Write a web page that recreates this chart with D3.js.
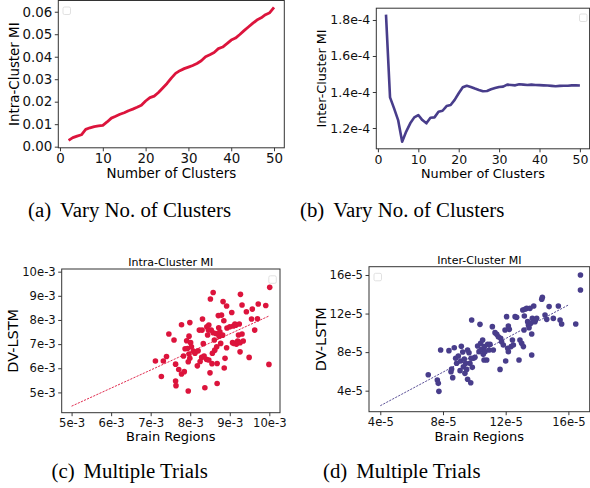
<!DOCTYPE html>
<html>
<head>
<meta charset="utf-8">
<script src="https://cdn.jsdelivr.net/npm/d3@7"></script>
<style>
  body { margin: 0; background: #fff; }
  text { font-family: "DejaVu Sans", sans-serif; }
  .cap { font-family: "Liberation Serif", "Times New Roman", serif; }
</style>
</head>
<body>
<div id="fig"></div>
<script>
// (a) / (b): varying number of clusters
const nClusters = [2,3,4,5,6,7,8,9,10,11,12,13,14,15,16,17,18,19,20,21,22,23,24,25,26,
  27,28,29,30,31,32,33,34,35,36,37,38,39,40,41,42,43,44,45,46,47,48,49,50];
const intraMI = [0.0028,0.0040,0.0047,0.0053,0.0077,0.0084,0.0089,0.0092,0.0095,0.0110,
  0.0127,0.0135,0.0144,0.0151,0.0160,0.0167,0.0175,0.0184,0.0203,0.0218,0.0225,0.0241,
  0.0261,0.0281,0.0305,0.0326,0.0338,0.0347,0.0354,0.0361,0.0370,0.0382,0.0400,0.0409,
  0.0419,0.0436,0.0443,0.0458,0.0474,0.0483,0.0499,0.0516,0.0532,0.0548,0.0563,0.0573,
  0.0587,0.0596,0.0619];
// inter-cluster MI in units of 1e-4
const interMI = [1.83,1.37,1.309,1.244,1.124,1.18,1.226,1.259,1.272,1.244,1.226,1.257,
  1.259,1.29,1.296,1.322,1.328,1.356,1.393,1.426,1.435,1.428,1.419,1.411,1.404,1.406,
  1.415,1.422,1.428,1.43,1.441,1.439,1.437,1.443,1.441,1.439,1.441,1.439,1.438,1.437,
  1.436,1.434,1.432,1.434,1.435,1.435,1.437,1.437,1.436];

// (c) intra-cluster trials, [brain regions, DV-LSTM] in units of 1e-3
const trialsC = [[7.12,6.30],[7.27,5.66],[7.32,6.30],[7.40,6.49],[7.46,7.42],[7.59,7.17],
  [7.63,6.17],[7.63,5.47],[7.64,5.28],[7.71,5.95],[7.78,7.80],[7.78,5.76],[7.83,6.51],
  [7.85,5.86],[7.91,7.14],[7.87,6.81],[7.93,6.82],[7.95,5.06],[7.99,7.89],[7.97,7.33],
  [8.01,7.06],[7.97,6.59],[7.99,6.41],[7.95,6.27],[8.03,6.89],[8.08,6.71],[8.12,6.62],
  [8.18,6.10],[8.20,6.72],[8.23,7.58],[8.25,6.28],[8.30,7.58],[8.31,8.04],[8.33,7.02],
  [8.29,6.45],[8.35,6.51],[8.37,5.19],[8.41,6.37],[8.42,7.72],[8.44,7.38],[8.46,7.58],
  [8.47,7.79],[8.47,6.34],[8.50,5.81],[8.51,8.87],[8.53,7.58],[8.55,6.19],[8.56,6.62],
  [8.58,9.14],[8.58,7.47],[8.61,7.17],[8.62,6.75],[8.65,7.44],[8.67,6.89],[8.68,6.20],
  [8.68,5.37],[8.71,8.18],[8.72,7.68],[8.73,7.33],[8.75,7.51],[8.77,7.03],[8.79,8.20],
  [8.82,7.37],[8.83,8.76],[8.85,7.97],[8.88,6.41],[8.86,6.01],[8.92,8.58],[8.92,6.85],
  [8.93,7.67],[9.00,7.72],[9.05,8.31],[9.07,7.06],[9.09,7.75],[9.11,7.03],[9.13,7.83],
  [9.15,7.78],[9.17,7.00],[9.20,7.13],[9.22,7.38],[9.24,7.83],[9.26,7.06],[9.26,6.68],
  [9.27,9.06],[9.31,8.62],[9.31,7.42],[9.34,7.13],[9.42,8.34],[9.49,6.45],[9.55,8.04],
  [9.57,8.45],[9.63,7.58],[9.70,8.05],[9.72,8.66],[9.91,8.60],[9.99,6.16],[10.01,9.35]];
const fitC = [[5.0,4.43],[10.0,8.17]];

// (d) inter-cluster trials, in units of 1e-5
const trialsD = [[7.06,5.66],[7.64,5.11],[7.70,4.76],[7.74,3.93],[7.85,8.22],[8.38,8.15],
  [8.51,5.97],[8.55,6.25],[8.62,5.35],[8.72,8.46],[8.81,7.36],[8.87,6.84],[8.98,7.60],
  [9.09,6.08],[9.13,7.08],[9.17,8.60],[9.26,8.01],[9.30,6.49],[9.36,7.29],[9.40,5.80],
  [9.45,6.84],[9.51,6.21],[9.57,5.18],[9.57,8.22],[9.66,7.94],[9.72,6.84],[9.77,4.83],
  [9.79,7.36],[9.83,11.33],[9.87,6.42],[9.94,7.36],[10.04,7.46],[10.21,8.63],[10.30,8.05],
  [10.36,10.88],[10.40,8.91],[10.47,8.29],[10.53,9.26],[10.57,7.77],[10.62,7.18],
  [10.64,8.57],[10.68,8.05],[10.79,7.18],[10.85,8.81],[10.94,8.22],[11.00,8.81],
  [11.15,10.64],[11.21,8.22],[11.32,10.02],[11.43,9.85],[11.53,9.60],[11.64,6.21],
  [11.68,9.43],[11.74,9.08],[11.85,8.74],[11.96,10.29],[12.00,7.08],[12.06,11.68],
  [12.13,8.39],[12.17,10.71],[12.23,10.36],[12.17,8.05],[12.34,8.57],[12.43,9.26],
  [12.49,8.74],[12.60,11.68],[12.70,11.61],[12.85,7.18],[12.91,9.26],[13.02,8.91],
  [13.09,12.37],[13.13,8.57],[13.17,10.29],[13.23,12.44],[13.19,11.75],[13.34,12.54],
  [13.40,11.16],[13.45,10.81],[13.49,10.54],[13.55,12.54],[13.60,10.99],[13.66,9.88],
  [13.66,7.70],[13.70,11.50],[13.79,12.78],[13.87,11.16],[13.98,11.50],[14.30,13.48],
  [14.34,13.68],[14.51,11.85],[14.62,11.40],[14.77,12.72],[15.04,11.50],[15.36,12.78],
  [15.47,11.33],[15.57,10.92],[16.47,10.92],[16.77,14.44],[16.77,16.00]];
const fitD = [[4.0,2.44],[16.0,12.89]];

const captions = [["(a)", "Vary No. of Clusters"], ["(b)", "Vary No. of Clusters"],
  ["(c)", "Multiple Trials"], ["(d)", "Multiple Trials"]];

const red = "#dc143c", blue = "#483d8b";

const svg = d3.select("#fig").append("svg")
  .attr("width", 590)
  .attr("height", 488);
svg.append("rect").attr("width", 590).attr("height", 488).attr("fill", "#fff");

// ticks, labels and spines for one panel
function axes(x, y, o) {
  const [x0, x1] = x.range(), [y0, y1] = y.range();
  const gx = svg.append("g").attr("transform", `translate(0,${y0})`)
    .call(d3.axisBottom(x).tickValues(o.xt).tickFormat(o.xf).tickSize(3.5).tickPadding(2.5));
  const gy = svg.append("g").attr("transform", `translate(${x0},0)`)
    .call(d3.axisLeft(y).tickValues(o.yt).tickFormat(o.yf).tickSize(3.5).tickPadding(2.5));
  [gx, gy].forEach(g => {
    g.attr("font-family", null).attr("font-size", o.fs);
    g.select(".domain").remove();
    g.selectAll("line").attr("stroke", "#222").attr("stroke-width", 0.9);
    g.selectAll("text").attr("fill", "#111");
  });
  svg.append("rect")
    .attr("x", x0).attr("y", y1)
    .attr("width", x1 - x0).attr("height", y0 - y1)
    .attr("fill", "none").attr("stroke", "#333").attr("stroke-width", 1);
  svg.append("text").attr("x", (x0 + x1) / 2).attr("y", o.xly)
    .attr("text-anchor", "middle").attr("font-size", o.lfs).text(o.xl);
  svg.append("text").attr("transform", "rotate(-90)")
    .attr("x", -(y0 + y1) / 2).attr("y", o.ylx)
    .attr("text-anchor", "middle").attr("font-size", o.ylfs || o.lfs).text(o.yl);
  if (o.title) {
    svg.append("text").attr("x", (x0 + x1) / 2).attr("y", y1 - 3)
      .attr("text-anchor", "middle").attr("font-size", 11).text(o.title);
  }
  // empty legend box
  svg.append("rect").attr("x", o.leg[0]).attr("y", o.leg[1])
    .attr("width", 7.5).attr("height", 7.5).attr("rx", 1.5)
    .attr("fill", "#fff").attr("stroke", "#d9d9d9").attr("stroke-width", 0.8);
}

// (a)
const xa = d3.scaleLinear().domain([-0.4, 52.4]).range([58.3, 284.3]),
      ya = d3.scaleLinear().domain([-0.0005, 0.065]).range([147.8, 0.5]);
axes(xa, ya, {
  xt: [0,10,20,30,40,50], xf: d3.format("d"),
  yt: [0,0.01,0.02,0.03,0.04,0.05,0.06], yf: d3.format(".2f"),
  fs: 13.4, lfs: 13.4, xl: "Number of Clusters", yl: "Intra-Cluster MI",
  xly: 177.5, ylx: 19, leg: [63, 7]
});
svg.append("path")
  .datum(nClusters.map((c, i) => [c, intraMI[i]]))
  .attr("fill", "none").attr("stroke", red).attr("stroke-width", 2.8)
  .attr("stroke-linejoin", "round")
  .attr("d", d3.line().x(d => xa(d[0])).y(d => ya(d[1])));

// (b)
const xb = d3.scaleLinear().domain([-0.4, 52.4]).range([376.3, 589.6]),
      yb = d3.scaleLinear().domain([1.0845, 1.8655]).range([148.8, 8.2]);
axes(xb, yb, {
  xt: [0,10,20,30,40,50], xf: d3.format("d"),
  yt: [1.2,1.4,1.6,1.8], yf: d => d.toFixed(1) + "e-4",
  fs: 12.5, lfs: 12.8, xl: "Number of Clusters", yl: "Inter-Cluster MI",
  xly: 177.5, ylx: 326, leg: [579.5, 14]
});
svg.append("path")
  .datum(nClusters.map((c, i) => [c, interMI[i]]))
  .attr("fill", "none").attr("stroke", blue).attr("stroke-width", 2.6)
  .attr("stroke-linejoin", "round")
  .attr("d", d3.line().x(d => xb(d[0])).y(d => yb(d[1])));

// (c)
const xc = d3.scaleLinear().domain([4.75, 10.27]).range([61.7, 280]),
      yc = d3.scaleLinear().domain([4.16, 10.11]).range([412.7, 269]);
axes(xc, yc, {
  xt: [5,6,7,8,9,10], xf: d => d + "e-3",
  yt: [5,6,7,8,9,10], yf: d => d + "e-3",
  fs: 11.6, lfs: 13, ylfs: 14.5, xl: "Brain Regions", yl: "DV-LSTM",
  xly: 441, ylx: 18, title: "Intra-Cluster MI", leg: [268.8, 275.8]
});
svg.append("path").datum(fitC)
  .attr("fill", "none").attr("stroke", red).attr("stroke-width", 0.9)
  .attr("stroke-dasharray", "2.2,1.2")
  .attr("d", d3.line().x(d => xc(d[0])).y(d => yc(d[1])));
svg.append("g").selectAll("circle").data(trialsC).enter().append("circle")
  .attr("cx", d => xc(d[0])).attr("cy", d => yc(d[1])).attr("r", 2.8)
  .attr("fill", red);

// (d)
const xd = d3.scaleLinear().domain([3.28, 17.36]).range([369, 589.7]),
      yd = d3.scaleLinear().domain([1.82, 16.86]).range([411.7, 266.7]);
axes(xd, yd, {
  xt: [4,8,12,16], xf: d => d + "e-5",
  yt: [4,8,12,16], yf: d => d + "e-5",
  fs: 11.6, lfs: 13, ylfs: 14.5, xl: "Brain Regions", yl: "DV-LSTM",
  xly: 441, ylx: 326, title: "Inter-Cluster MI", leg: [374, 273.3]
});
svg.append("path").datum(fitD)
  .attr("fill", "none").attr("stroke", blue).attr("stroke-width", 0.9)
  .attr("stroke-dasharray", "2.2,1.2")
  .attr("d", d3.line().x(d => xd(d[0])).y(d => yd(d[1])));
svg.append("g").selectAll("circle").data(trialsD).enter().append("circle")
  .attr("cx", d => xd(d[0])).attr("cy", d => yd(d[1])).attr("r", 2.8)
  .attr("fill", blue);

// sub-figure captions
const capPos = [[28, 217], [300, 217], [51.5, 478], [323, 478]];
captions.forEach((c, i) => {
  const t = svg.append("text").attr("class", "cap")
    .attr("x", capPos[i][0]).attr("y", capPos[i][1]).attr("font-size", 20.8);
  t.append("tspan").text(c[0]);
  t.append("tspan").attr("dx", 9).text(c[1]);
});
</script>
</body>
</html>
